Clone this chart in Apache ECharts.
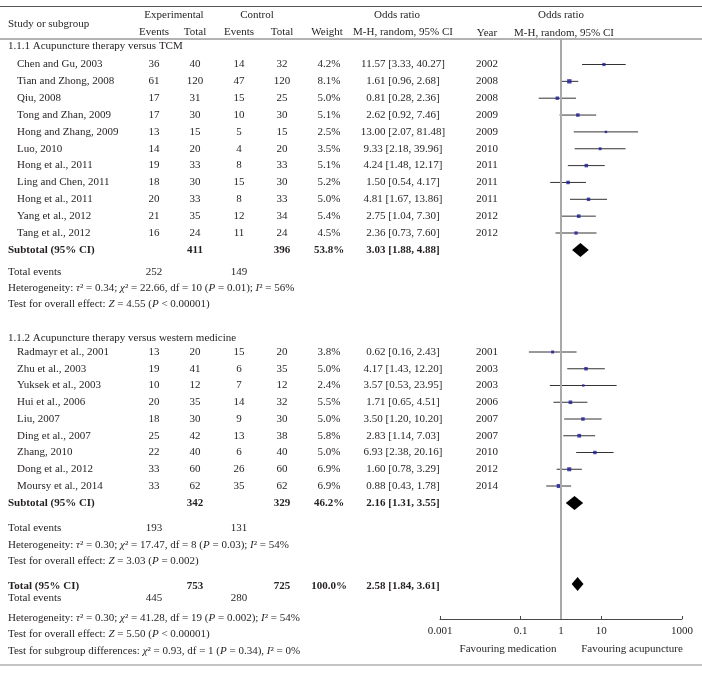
<!DOCTYPE html>
<html><head><meta charset="utf-8">
<script src="https://cdn.jsdelivr.net/npm/echarts@6/dist/echarts.min.js"></script>
<style>html,body{margin:0;padding:0;background:#fff}#c{width:702px;height:675px}</style>
</head><body><div id="c"></div>
<script>
// ---------- DATA ----------
const studies1 = ['Chen and Gu, 2003','Tian and Zhong, 2008','Qiu, 2008','Tong and Zhan, 2009','Hong and Zhang, 2009','Luo, 2010','Hong et al., 2011','Ling and Chen, 2011','Hong et al., 2011','Yang et al., 2012','Tang et al., 2012'];
const expEvents1 = [36,61,17,17,13,14,19,18,20,21,16];
const expTotal1  = [40,120,31,30,15,20,33,30,33,35,24];
const ctlEvents1 = [14,47,15,10,5,4,8,15,8,12,11];
const ctlTotal1  = [32,120,25,30,15,20,33,30,33,34,24];
const weight1    = [4.2,8.1,5.0,5.1,2.5,3.5,5.1,5.2,5.0,5.4,4.5];
const or1        = [11.57,1.61,0.81,2.62,13.00,9.33,4.24,1.50,4.81,2.75,2.36];
const lo1        = [3.33,0.96,0.28,0.92,2.07,2.18,1.48,0.54,1.67,1.04,0.73];
const hi1        = [40.27,2.68,2.36,7.46,81.48,39.96,12.17,4.17,13.86,7.30,7.60];
const year1      = [2002,2008,2008,2009,2009,2010,2011,2011,2011,2012,2012];

const studies2 = ['Radmayr et al., 2001','Zhu et al., 2003','Yuksek et al., 2003','Hui et al., 2006','Liu, 2007','Ding et al., 2007','Zhang, 2010','Dong et al., 2012','Moursy et al., 2014'];
const expEvents2 = [13,19,10,20,18,25,22,33,33];
const expTotal2  = [20,41,12,35,30,42,40,60,62];
const ctlEvents2 = [15,6,7,14,9,13,6,26,35];
const ctlTotal2  = [20,35,12,32,30,38,40,60,62];
const weight2    = [3.8,5.0,2.4,5.5,5.0,5.8,5.0,6.9,6.9];
const or2        = [0.62,4.17,3.57,1.71,3.50,2.83,6.93,1.60,0.88];
const lo2        = [0.16,1.43,0.53,0.65,1.20,1.14,2.38,0.78,0.43];
const hi2        = [2.43,12.20,23.95,4.51,10.20,7.03,20.16,3.29,1.78];
const year2      = [2001,2003,2003,2006,2007,2007,2010,2012,2014];

// pooled: [subgroup 1, subgroup 2, overall]
const poolLabels   = ['Subtotal (95% CI)','Subtotal (95% CI)','Total (95% CI)'];
const poolExpTotal = [411,342,753];
const poolCtlTotal = [396,329,725];
const poolWeight   = ['53.8%','46.2%','100.0%'];
const poolOR       = [3.03,2.16,2.58];
const poolLo       = [1.88,1.31,1.84];
const poolHi       = [4.88,3.55,3.61];
const poolExpEvents= [252,193,445];
const poolCtlEvents= [149,131,280];
const hetTau2 = ['0.34','0.30','0.30'];
const hetChi2 = ['22.66','17.47','41.28'];
const hetDf   = [10,8,19];
const hetP    = ['0.01','0.03','0.002'];
const hetI2   = [56,54,54];
const zVal    = ['4.55','3.03','5.50'];
const zP      = ['< 0.00001','= 0.002','< 0.00001'];
const subgroupDiff = {chi2:'0.93', df:1, p:'0.34', i2:0};
const groupTitles = ['1.1.1 Acupuncture therapy versus TCM','1.1.2 Acupuncture therapy versus western medicine'];
const tickValues = [0.001,0.1,1,10,1000];
const tickLabels = ['0.001','0.1','1','10','1000'];

// ---------- LAYOUT ----------
const FONT = '"Liberation Serif","Times New Roman",serif';
const TXT = '#231f20';
const COL = {grp:8, name:17, ee:154, et:195, ce:239, ct:282, w:329, or:403, yr:487};
const rows1Start = 64.5, rows2Start = 352, step1 = 16.85, step2 = 16.75;
const Y = {
  hTop:15, hMid:24, hBot:32.5, grp1:46,
  sub1:250, ev1:272, het1:288, z1:304,
  grp2:338, sub2:503, ev2:528, het2:545, z2:561,
  tot:586, evT:598, hetT:618, zT:634, sgd:651, fav:649
};
const rowY1 = studies1.map((_, i) => rows1Start + i * step1);
const rowY2 = studies2.map((_, i) => rows2Start + i * step2);
const fmt = v => v.toFixed(2);
const ciText = (o,l,h) => fmt(o) + ' [' + fmt(l) + ', ' + fmt(h) + ']';

// ---------- TEXT ITEMS ----------
const items = [];
const T = (x, y, text, align, bold) => items.push({x, y, text, align: align || 'center', bold: !!bold});
T(COL.grp, Y.hMid, 'Study or subgroup', 'left');
T(174, Y.hTop, 'Experimental'); T(257, Y.hTop, 'Control');
T(COL.ee, Y.hBot, 'Events'); T(COL.et, Y.hBot, 'Total');
T(COL.ce, Y.hBot, 'Events'); T(COL.ct, Y.hBot, 'Total');
T(327, Y.hBot, 'Weight');
T(397, Y.hTop, 'Odds ratio'); T(COL.or, Y.hBot, 'M-H, random, 95% CI');
T(COL.yr, Y.hBot + 1, 'Year');
T(561, Y.hTop, 'Odds ratio'); T(564, Y.hBot + 1, 'M-H, random, 95% CI');

function addGroup(names, ee, et, ce, ct, w, o, l, h, yr, ys) {
  names.forEach((n, i) => {
    const y = ys[i];
    T(COL.name, y, n, 'left');
    T(COL.ee, y, String(ee[i])); T(COL.et, y, String(et[i]));
    T(COL.ce, y, String(ce[i])); T(COL.ct, y, String(ct[i]));
    T(COL.w, y, w[i].toFixed(1) + '%');
    T(COL.or, y, ciText(o[i], l[i], h[i]));
    T(COL.yr, y, String(yr[i]));
  });
}
function addPool(k, yRow, yEv, yHet, yZ, orY) {
  T(COL.grp, yRow, poolLabels[k], 'left', true);
  T(COL.et, yRow, String(poolExpTotal[k]), 'center', true);
  T(COL.ct, yRow, String(poolCtlTotal[k]), 'center', true);
  T(COL.w, yRow, poolWeight[k], 'center', true);
  T(COL.or, orY, ciText(poolOR[k], poolLo[k], poolHi[k]), 'center', true);
  T(COL.grp, yEv, 'Total events', 'left');
  T(COL.ee, yEv, String(poolExpEvents[k])); T(COL.ce, yEv, String(poolCtlEvents[k]));
  T(COL.grp, yHet, 'Heterogeneity: {i|τ}² = ' + hetTau2[k] + '; {i|χ}² = ' + hetChi2[k] + ', df = ' + hetDf[k] +
    ' ({i|P} = ' + hetP[k] + '); {i|I}² = ' + hetI2[k] + '%', 'left');
  T(COL.grp, yZ, 'Test for overall effect: {i|Z} = ' + zVal[k] + ' ({i|P} ' + zP[k] + ')', 'left');
}
T(COL.grp, Y.grp1, groupTitles[0], 'left');
addGroup(studies1, expEvents1, expTotal1, ctlEvents1, ctlTotal1, weight1, or1, lo1, hi1, year1, rowY1);
addPool(0, Y.sub1, Y.ev1, Y.het1, Y.z1, Y.sub1);
T(COL.grp, Y.grp2, groupTitles[1], 'left');
addGroup(studies2, expEvents2, expTotal2, ctlEvents2, ctlTotal2, weight2, or2, lo2, hi2, year2, rowY2);
addPool(1, Y.sub2, Y.ev2, Y.het2, Y.z2, Y.sub2);
addPool(2, Y.tot, Y.evT, Y.hetT, Y.zT, Y.tot);
T(COL.grp, Y.sgd, 'Test for subgroup differences: {i|χ}² = ' + subgroupDiff.chi2 + ', df = ' + subgroupDiff.df +
  ' ({i|P} = ' + subgroupDiff.p + '), {i|I}² = ' + subgroupDiff.i2 + '%', 'left');
T(508, Y.fav, 'Favouring medication');
T(632, Y.fav, 'Favouring acupuncture');

// ---------- SERIES DATA ----------
const ciData = [], sqData = [];
or1.forEach((v, i) => { ciData.push([lo1[i], hi1[i], rowY1[i]]); sqData.push([v, rowY1[i], weight1[i]]); });
or2.forEach((v, i) => { ciData.push([lo2[i], hi2[i], rowY2[i]]); sqData.push([v, rowY2[i], weight2[i]]); });
const poolY = [Y.sub1, Y.sub2, Y.tot - 2];
const diaData = poolOR.map((v, k) => [v, poolLo[k], poolHi[k], poolY[k]]);

const chart = echarts.init(document.getElementById('c'), null, {renderer: 'canvas'});
const RICH = {i: {fontStyle: 'italic', fontFamily: FONT, fontSize: 11, fill: TXT}};

chart.setOption({
  animation: false,
  backgroundColor: '#fff',
  grid: {left: 440, right: 20, top: 39, bottom: 56, containLabel: false},
  xAxis: {
    type: 'log', logBase: 10, min: 0.001, max: 1000,
    axisLine: {show: true, lineStyle: {color: '#4a4a4a', width: 1}},
    axisTick: {show: true, inside: true, length: 3, customValues: tickValues, lineStyle: {color: '#4a4a4a'}},
    axisLabel: {
      customValues: tickValues, margin: 7, color: TXT, fontFamily: FONT, fontSize: 11,
      formatter: v => { let best = 0; tickValues.forEach((t, i) => { if (Math.abs(Math.log10(v) - Math.log10(t)) < Math.abs(Math.log10(v) - Math.log10(tickValues[best]))) best = i; }); return tickLabels[best]; }
    },
    splitLine: {show: false}, minorTick: {show: false}
  },
  yAxis: {type: 'value', min: 39, max: 619, inverse: true, show: false, splitLine: {show: false}},
  graphic: [
    {type: 'line', shape: {x1: 0, y1: 6.5, x2: 702, y2: 6.5}, style: {stroke: '#555', lineWidth: 1}},
    {type: 'line', shape: {x1: 0, y1: 39, x2: 702, y2: 39}, style: {stroke: '#666', lineWidth: 1}},
    {type: 'line', shape: {x1: 0, y1: 665, x2: 702, y2: 665}, style: {stroke: '#b0b0b0', lineWidth: 1.5}}
  ],
  series: [
    {
      type: 'custom', name: 'ci', data: ciData, encode: {x: [0, 1], y: 2}, clip: false, z: 2,
      renderItem: (params, api) => {
        const a = api.coord([api.value(0), api.value(2)]);
        const b = api.coord([api.value(1), api.value(2)]);
        return {type: 'line', shape: {x1: a[0], y1: a[1], x2: b[0], y2: b[1]}, style: {stroke: '#333', lineWidth: 1}};
      }
    },
    {
      type: 'scatter', name: 'or', data: sqData, symbol: 'rect', z: 3,
      symbolSize: v => Math.sqrt(v[2]) * 1.55,
      itemStyle: {color: '#1c1c96'},
      markLine: {
        silent: true, symbol: 'none', label: {show: false}, animation: false,
        lineStyle: {color: '#a8a8a8', width: 2, type: 'solid'},
        data: [{xAxis: 1}]
      }
    },
    {
      type: 'custom', name: 'pooled', data: diaData, encode: {x: [0, 1, 2], y: 3}, clip: false, z: 4,
      renderItem: (params, api) => {
        const y = api.value(3);
        const c = api.coord([api.value(0), y]);
        const l = api.coord([api.value(1), y]);
        const r = api.coord([api.value(2), y]);
        const h = 7;
        return {type: 'polygon', shape: {points: [[l[0], c[1]], [c[0], c[1] - h], [r[0], c[1]], [c[0], c[1] + h]]}, style: {fill: '#000'}};
      }
    },
    {
      type: 'custom', name: 'table', data: [[1, 300]], encode: {x: 0, y: 1}, clip: false, z: 5, silent: true,
      renderItem: (params, api) => ({
        type: 'group',
        children: items.map(it => ({
          type: 'text', x: it.x, y: api.coord([1, it.y])[1],
          style: {
            text: it.text, fill: TXT, fontFamily: FONT, fontSize: 11,
            fontWeight: it.bold ? 'bold' : 'normal',
            align: it.align, verticalAlign: 'middle',
            rich: {i: {fontStyle: 'italic', fontFamily: FONT, fontSize: 11, fill: TXT, fontWeight: it.bold ? 'bold' : 'normal'}}
          }
        }))
      })
    }
  ]
});
</script>
</body></html>
